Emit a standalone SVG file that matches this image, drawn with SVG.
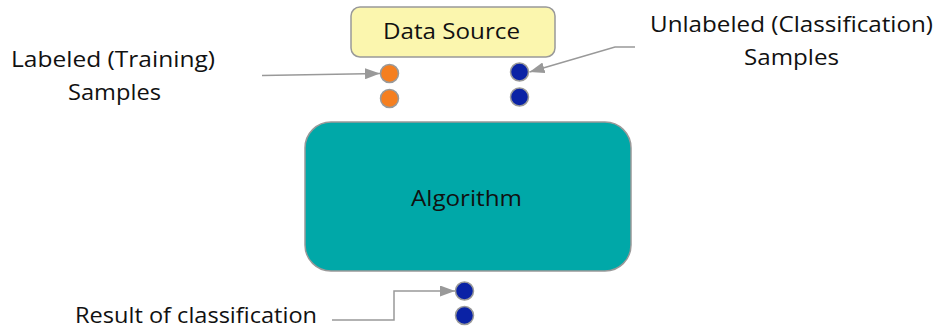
<svg xmlns="http://www.w3.org/2000/svg" width="938" height="331" viewBox="0 0 938 331">
  <style>
    .lbl { font-family: "Open Sans", Lato, "Liberation Sans", sans-serif; font-size: 22.5px; fill: #111; text-anchor: middle; }
    .box { stroke: #999; stroke-width: 1.5; }
    .dot { stroke: #999; stroke-width: 1.5; }
    .orange { fill: #f57f20; }
    .blue { fill: #0a22a5; }
    .conn { fill: none; stroke: #999; stroke-width: 1.5; }
  </style>
  <defs>
    <marker id="arrow" viewBox="0 0 15 11" refX="15" refY="5.5" markerWidth="15" markerHeight="11" markerUnits="userSpaceOnUse" orient="auto">
      <path d="M0,0 L15,5.5 L0,11 z" fill="#999"/>
    </marker>
  </defs>

  <!-- free-standing labels -->
  <text class="lbl" x="113" y="67" textLength="204" lengthAdjust="spacingAndGlyphs">Labeled (Training)</text>
  <text class="lbl" x="114.5" y="100" textLength="93" lengthAdjust="spacingAndGlyphs">Samples</text>
  <text class="lbl" x="791.5" y="32" textLength="283" lengthAdjust="spacingAndGlyphs">Unlabeled (Classification)</text>
  <text class="lbl" x="791.5" y="65" textLength="95" lengthAdjust="spacingAndGlyphs">Samples</text>
  <text class="lbl" x="196" y="323" textLength="242" lengthAdjust="spacingAndGlyphs">Result of classification</text>

  <g id="data-source">
    <rect class="box" x="351" y="7" width="204" height="50" rx="9" fill="#fbf6ae"/>
    <text class="lbl" x="451.5" y="39" textLength="137" lengthAdjust="spacingAndGlyphs">Data Source</text>
  </g>

  <g id="algorithm">
    <rect class="box" x="305" y="122" width="326" height="149" rx="26" fill="#00a8a8"/>
    <text class="lbl" x="466.5" y="206" textLength="111" lengthAdjust="spacingAndGlyphs">Algorithm</text>
  </g>

  <g id="training-samples">
    <circle class="dot orange" cx="389.5" cy="73.5" r="9"/>
    <circle class="dot orange" cx="389.5" cy="98.5" r="9"/>
  </g>

  <g id="unlabeled-samples">
    <circle class="dot blue" cx="519.5" cy="72" r="9"/>
    <circle class="dot blue" cx="519.5" cy="97" r="9"/>
  </g>

  <g id="result-samples">
    <circle class="dot blue" cx="464.5" cy="291" r="9"/>
    <circle class="dot blue" cx="464.5" cy="315.5" r="9"/>
  </g>

  <g id="connectors">
    <path class="conn" d="M262,75.5 L380,73.5" marker-end="url(#arrow)"/>
    <path class="conn" d="M635,47 L615,47 L529.5,72" marker-end="url(#arrow)"/>
    <path class="conn" d="M332,320 L394,320 L394,291 L455,291" marker-end="url(#arrow)"/>
  </g>
</svg>
